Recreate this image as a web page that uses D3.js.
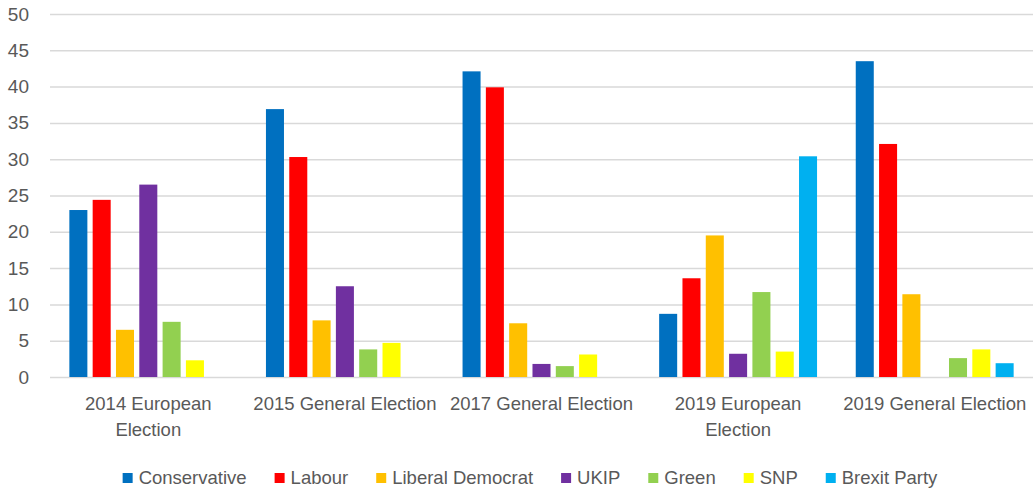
<!DOCTYPE html>
<html>
<head>
<meta charset="utf-8">
<script src="https://cdn.jsdelivr.net/npm/d3@7"></script>
<style>
    body { margin: 0; background: #fff; }
    text { font-family: "Liberation Sans", Arial, sans-serif; fill: #595959; }
</style>
</head>
<body>
<div id="wrapper"></div>
<script>
const elections = ["2014 European Election", "2015 General Election", "2017 General Election", "2019 European Election", "2019 General Election"];
const parties = ["Conservative", "Labour", "Liberal Democrat", "UKIP", "Green", "SNP", "Brexit Party"];
const partyColors = ["#0070C0", "#FF0000", "#FFC000", "#7030A0", "#92D050", "#FFFF00", "#00B0F0"];

// vote share (%) per election, one array per party
const conservative = [23.0, 36.9, 42.1, 8.7, 43.5];
const labour = [24.4, 30.3, 39.9, 13.6, 32.1];
const libDem = [6.5, 7.8, 7.4, 19.5, 11.4];
const ukip = [26.5, 12.5, 1.8, 3.2, 0];
const green = [7.6, 3.8, 1.5, 11.7, 2.6];
const snp = [2.3, 4.7, 3.1, 3.5, 3.8];
const brexit = [0, 0, 0, 30.4, 1.9];

const yTicks = [0, 5, 10, 15, 20, 25, 30, 35, 40, 45, 50];

const seriesValues = [conservative, labour, libDem, ukip, green, snp, brexit];

const dimensions = {
    width: 1036,
    height: 491,
    margin: {
        top: 14,
        right: 3,
        bottom: 114,
        left: 50,
    },
}
dimensions.boundedWidth = dimensions.width - dimensions.margin.left - dimensions.margin.right;
dimensions.boundedHeight = dimensions.height - dimensions.margin.top - dimensions.margin.bottom;

const wrapper = d3.select("#wrapper")
    .append("svg")
    .attr("width", dimensions.width)
    .attr("height", dimensions.height);

const bounds = wrapper.append("g")
    .attr("transform", `translate(${dimensions.margin.left},${dimensions.margin.top})`);

const x0 = d3.scaleBand()
    .domain(elections)
    .range([0, dimensions.boundedWidth]);

const x1 = d3.scaleBand()
    .domain(parties)
    .range([0, x0.bandwidth()])
    .paddingInner(0.227)
    .paddingOuter(0.83);

const yScale = d3.scaleLinear()
    .domain([0, 50])
    .range([dimensions.boundedHeight, 0]);

// gridlines
const yAxis = bounds.append("g")
    .attr("class", "y-axis")
    .call(d3.axisLeft(yScale).tickValues(yTicks).tickSize(-dimensions.boundedWidth).tickPadding(21));

yAxis.select(".domain").remove();
yAxis.selectAll(".tick line")
    .attr("stroke", "#d9d9d9")
    .attr("stroke-width", 1.5);
yAxis.selectAll(".tick text")
    .style("font-size", "19px")
    .attr("fill", "#595959");

const data = [];
elections.forEach((e, i) => {
    parties.forEach((p, j) => {
        data.push({ election: e, party: p, value: seriesValues[j][i], color: partyColors[j] });
    });
});

bounds.selectAll(".bar")
    .data(data.filter(d => d.value > 0))
    .enter()
    .append("rect")
    .attr("class", "bar")
    .attr("x", d => x0(d.election) + x1(d.party))
    .attr("y", d => yScale(d.value))
    .attr("width", x1.bandwidth())
    .attr("height", d => yScale(0) - yScale(d.value))
    .attr("fill", d => d.color);

// category labels, wrapped when wider than the band
const xAxis = bounds.append("g")
    .attr("transform", `translate(0, ${dimensions.boundedHeight})`);

elections.forEach(e => {
    const t = xAxis.append("text")
        .attr("x", x0(e) + x0.bandwidth() / 2)
        .attr("y", 33)
        .attr("text-anchor", "middle")
        .style("font-size", "18.5px");
    const words = e.split(" ");
    let line = [];
    let tspan = t.append("tspan").attr("x", x0(e) + x0.bandwidth() / 2).attr("dy", 0);
    words.forEach(w => {
        line.push(w);
        tspan.text(line.join(" "));
        if (tspan.node().getComputedTextLength() > x0.bandwidth() - 4 && line.length > 1) {
            line.pop();
            tspan.text(line.join(" "));
            line = [w];
            tspan = t.append("tspan")
                .attr("x", x0(e) + x0.bandwidth() / 2)
                .attr("dy", 26)
                .text(w);
        }
    });
});

// legend
const legend = wrapper.append("g");
let lx = 0;
parties.forEach((p, j) => {
    const item = legend.append("g").attr("transform", `translate(${lx},0)`);
    item.append("rect")
        .attr("x", 0)
        .attr("y", -11)
        .attr("width", 10)
        .attr("height", 10)
        .attr("fill", partyColors[j]);
    const label = item.append("text")
        .attr("x", 16)
        .attr("y", 0)
        .style("font-size", "18.5px")
        .text(p);
    lx += 16 + label.node().getComputedTextLength() + 28;
});
const legendWidth = lx - 28;
legend.attr("transform", `translate(${530 - legendWidth / 2}, 484)`);
</script>
</body>
</html>
